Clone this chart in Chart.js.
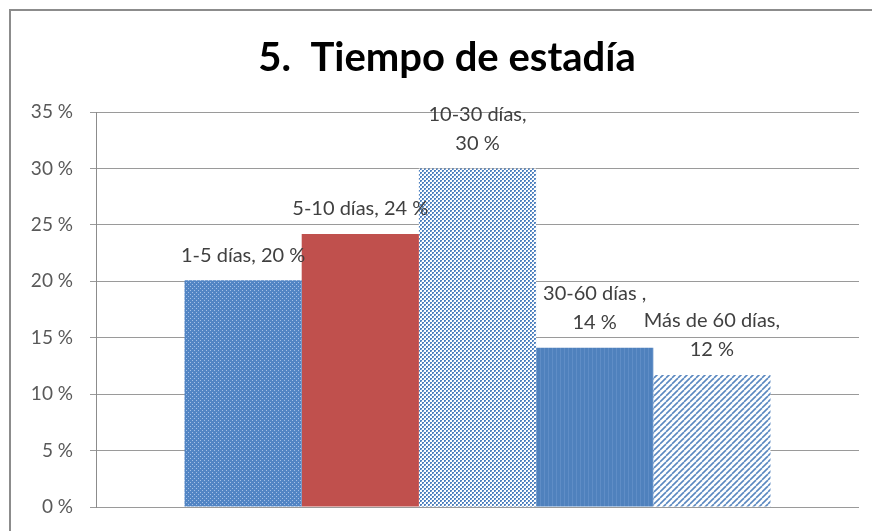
<!DOCTYPE html>
<html>
<head>
<meta charset="utf-8">
<script src="https://cdn.jsdelivr.net/npm/chart.js@4.4.1/dist/chart.umd.min.js"></script>
<style>
  body { margin: 0; background: #fff; overflow: hidden; }
  #wrap { position: relative; width: 872px; height: 531px; overflow: hidden; }
  #frame { position: absolute; left: 9px; top: 9px; width: 1000px; height: 1000px; border-left: 2px solid #8c8c8c; border-top: 2px solid #8c8c8c; }
  canvas { position: absolute; left: 0; top: 0; }
</style>
</head>
<body>
<div id="wrap">
  <div id="frame"></div>
  <canvas id="estadia" width="872" height="531"></canvas>
</div>
<script>
// datos
const categorias = ['1-5 días', '5-10 días', '10-30 días', '30-60 días ', 'Más de 60 días'];
const porcentajes = [0.201, 0.242, 0.300, 0.141, 0.117];
const partirEtiqueta = [false, false, true, true, true];
const ticksY = [0, 0.05, 0.10, 0.15, 0.20, 0.25, 0.30, 0.35];
const titulo = '5.  Tiempo de estadía';

const fuente = 'Lato, "Open Sans", sans-serif';

function patron(w, h, fondo, dibujar) {
  const c = document.createElement('canvas');
  c.width = w; c.height = h;
  const x = c.getContext('2d');
  x.fillStyle = fondo;
  x.fillRect(0, 0, w, h);
  dibujar(x);
  return x.createPattern(c, 'repeat');
}

const rellenos = [
  // puntitos claros sobre azul
  patron(4, 4, '#5285c4', x => { x.fillStyle = '#a4c0e6'; x.fillRect(0, 0, 1, 1); x.fillRect(2, 2, 1, 1); }),
  '#c0504d',
  // ajedrez fino
  patron(4, 4, '#ffffff', x => { x.fillStyle = '#4f81bd'; x.fillRect(0, 0, 2, 2); x.fillRect(2, 2, 2, 2); x.fillStyle = '#8fb0dc'; x.fillRect(1, 1, 1, 1); x.fillRect(3, 3, 1, 1); }),
  patron(4, 4, '#4f81bd', x => { x.fillStyle = '#5f8dc6'; x.fillRect(0, 0, 1, 4); }),
  // rayas diagonales
  patron(6, 6, '#ffffff', x => {
    x.strokeStyle = '#5a88c0'; x.lineWidth = 1.6;
    for (let i = -6; i <= 12; i += 6) { x.beginPath(); x.moveTo(i, 6); x.lineTo(i + 6, 0); x.stroke(); }
  })
];

const etiquetas = {
  id: 'etiquetas',
  afterDatasetsDraw(chart) {
    const ctx = chart.ctx;
    ctx.save();
    ctx.font = '20px ' + fuente;
    ctx.fillStyle = '#404040';
    ctx.textAlign = 'center';
    ctx.textBaseline = 'middle';
    chart.data.datasets.forEach((ds, i) => {
      const bar = chart.getDatasetMeta(i).data[0];
      const pct = Math.round(ds.data[0] * 100) + ' %';
      const lineas = partirEtiqueta[i] ? [ds.label + ',', pct] : [ds.label + ', ' + pct];
      let y = bar.y - 25 - (lineas.length - 1) * 29;
      lineas.forEach(l => { ctx.fillText(l, bar.x, y); y += 29; });
    });
    // titulo, algo desplazado a la derecha como en el original
    ctx.font = 'bold 40px ' + fuente;
    ctx.fillStyle = '#000';
    ctx.fillText(titulo, 447, 58);
    ctx.restore();
  }
};

new Chart(document.getElementById('estadia').getContext('2d'), {
  type: 'bar',
  data: {
    labels: [''],
    datasets: categorias.map((c, i) => ({
      label: c,
      data: [porcentajes[i]],
      backgroundColor: rellenos[i],
      borderWidth: 0,
      barPercentage: 1,
      categoryPercentage: 0.768
    }))
  },
  options: {
    responsive: false,
    animation: false,
    layout: { padding: { left: 0, right: 13, top: 112, bottom: 24 } },
    plugins: {
      legend: { display: false },
      tooltip: { enabled: false },
      title: { display: false }
    },
    scales: {
      x: { display: false },
      y: {
        min: 0, max: 0.35,
        afterBuildTicks: s => { s.ticks = ticksY.map(v => ({ value: v })); },
        afterFit: s => { s.width = 96; s.paddingTop = 0; s.paddingBottom = 0; },
        border: { color: '#8c8c8c', width: 1 },
        grid: { color: '#9a9a9a', tickLength: 6, drawTicks: true },
        ticks: {
          color: '#595959',
          padding: 17,
          font: { family: fuente, size: 19 },
          callback: v => Math.round(v * 100) + ' %'
        }
      }
    }
  },
  plugins: [etiquetas]
});
</script>
</body>
</html>
